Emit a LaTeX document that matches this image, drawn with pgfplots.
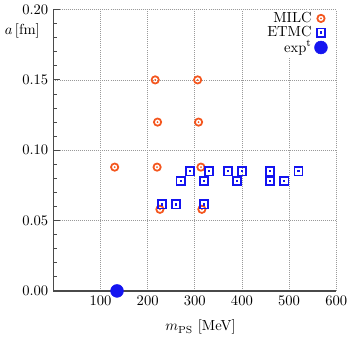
\documentclass[border=0pt]{standalone}
\usepackage{pgfplots}
\pgfplotsset{compat=1.18}
\definecolor{milc}{HTML}{F4561E}
\definecolor{etmc}{HTML}{1414F0}
\definecolor{axgray}{HTML}{4A4A4A}

\pgfdeclareplotmark{dotcircle}{%
  \pgfpathcircle{\pgfpointorigin}{\pgfplotmarksize}\pgfusepathqstroke
  \pgfpathcircle{\pgfpointorigin}{0.28\pgfplotmarksize}\pgfusepathqfill}
\pgfdeclareplotmark{dotsquare}{%
  \pgfpathrectangle{\pgfpoint{-\pgfplotmarksize}{-\pgfplotmarksize}}{\pgfpoint{2\pgfplotmarksize}{2\pgfplotmarksize}}\pgfusepathqstroke
  \pgfpathrectangle{\pgfpoint{-0.28\pgfplotmarksize}{-0.28\pgfplotmarksize}}{\pgfpoint{0.56\pgfplotmarksize}{0.56\pgfplotmarksize}}\pgfusepathqfill}

\begin{document}
\begin{tikzpicture}
\begin{axis}[
  scale only axis,
  width=194pt, height=193pt,
  xmin=0, xmax=600, ymin=0, ymax=0.2,
  axis x line=bottom, axis y line=left,
  axis line style={axgray, line width=1pt, -},
  xtick={100,200,...,600},
  ytick={0,0.05,0.1,0.15,0.2},
  minor y tick num=4,
  major tick length=4.5pt, minor tick length=2.5pt,
  tick align=inside,
  x tick style={draw=none},
  y tick style={axgray, line width=0.6pt},
  yticklabel style={/pgf/number format/fixed, /pgf/number format/fixed zerofill, /pgf/number format/precision=2},
  grid=major,
  major grid style={gray!80, densely dotted, line width=0.5pt},
  xlabel={$m_{\rm PS}$ [MeV]},
  xlabel style={at={(axis description cs:0.52,-0.085)}, anchor=north},
  ylabel={$a\,$[fm]},
  ylabel style={rotate=-90, at={(axis description cs:-0.11,0.925)}, anchor=center},
  legend style={draw=none, fill=white, at={(axis description cs:0.975,1.0)}, anchor=north east,
    legend cell align=right, row sep=0pt, inner sep=1pt,
    nodes={inner ysep=0.6pt}},
  legend plot pos=right,
]
\addplot[only marks, mark=dotcircle, mark size=2.5pt, draw=milc, fill=milc, line width=1.2pt] coordinates {
  (130,0.088) (220,0.088) (216,0.150) (221,0.120) (226,0.058)
  (306,0.150) (308,0.120) (313,0.088) (315,0.058)
};
\addlegendentry{MILC}
\addplot[only marks, mark=dotsquare, mark size=2.8pt, draw=etmc, fill=etmc, line width=1.2pt] coordinates {
  (230,0.0615) (260,0.0615) (320,0.0615)
  (270,0.078) (320,0.078) (390,0.078) (460,0.078) (490,0.078)
  (290,0.085) (330,0.085) (370,0.085) (400,0.085) (460,0.085) (520,0.085)
};
\addlegendentry{ETMC}
\addplot[only marks, mark=*, mark size=4.4pt, draw=etmc, fill=etmc] coordinates {(135,0)};
\addlegendentry{exp$^{\rm t}$}
\end{axis}
\end{tikzpicture}
\end{document}
